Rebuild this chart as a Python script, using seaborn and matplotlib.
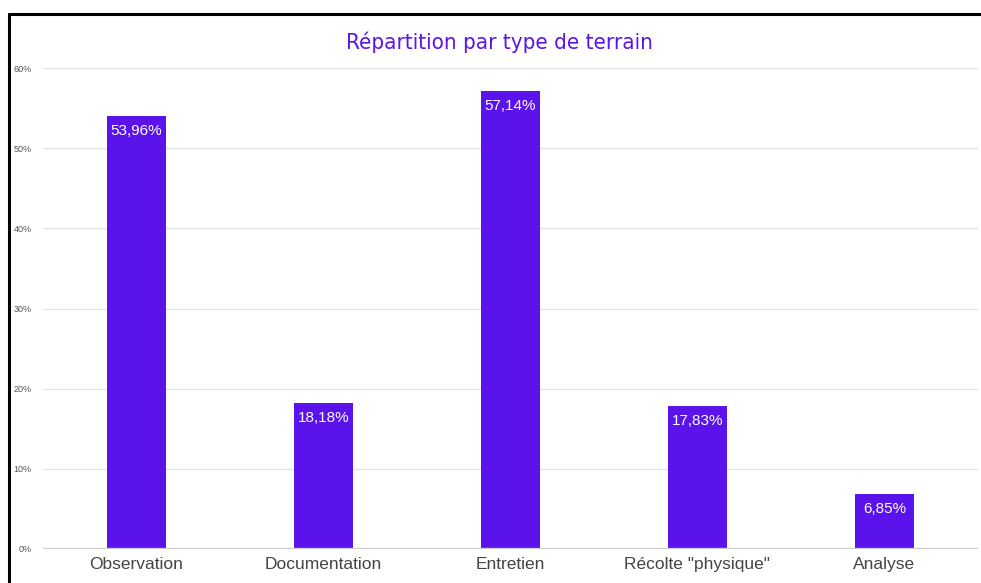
import matplotlib
matplotlib.use("Agg")
import matplotlib.pyplot as plt
from matplotlib.lines import Line2D
import seaborn as sns
import pandas as pd

categories = ["Observation", "Documentation", "Entretien", "Récolte \"physique\"", "Analyse"]
values = [53.96, 18.18, 57.14, 17.83, 6.85]
value_labels = ["53,96%", "18,18%", "57,14%", "17,83%", "6,85%"]
y_ticks = [0, 10, 20, 30, 40, 50, 60]
y_tick_labels = ["0%", "10%", "20%", "30%", "40%", "50%", "60%"]

BAR_COLOR = "#5b13ec"
TITLE_COLOR = "#5b14eb"

sns.set_theme(style="white")
plt.rcParams["font.family"] = ["Liberation Sans", "DejaVu Sans"]

df = pd.DataFrame({"categorie": categories, "valeur": values})

fig = plt.figure(figsize=(9.81, 5.83), dpi=100)
ax = fig.add_axes([43 / 981, 1 - 549 / 583, (978 - 43) / 981, (549 - 68) / 583])

sns.barplot(data=df, x="categorie", y="valeur", color=BAR_COLOR, width=0.316,
            saturation=1, ax=ax, zorder=3, edgecolor=BAR_COLOR, linewidth=0)

ax.set_xlim(-0.5, len(categories) - 0.5)
ax.set_ylim(0, 60)
ax.set_yticks(y_ticks)
ax.set_yticklabels(y_tick_labels, fontsize=6.5, color="#555555")
ax.tick_params(axis="y", length=0, pad=8)
ax.tick_params(axis="x", length=0, pad=6, labelsize=12.5, labelcolor="#444444")
ax.set_xlabel("")
ax.set_ylabel("")

for t in y_ticks[1:]:
    ax.axhline(t, color="#e4e4e4", linewidth=1, zorder=1)
ax.axhline(0, color="#cccccc", linewidth=2.4, zorder=4)

for s in ax.spines.values():
    s.set_visible(False)

for patch, lab in zip(ax.patches, value_labels):
    x = patch.get_x() + patch.get_width() / 2
    ax.annotate(lab, (x, patch.get_height()), xytext=(0, -10.5), textcoords="offset points",
                ha="center", va="center", color="white", fontsize=11, zorder=5)

fig.text(499 / 981, 1 - 42 / 583, "Répartition par type de terrain", ha="center", va="center",
         color=TITLE_COLOR, fontsize=16, fontstretch="condensed",
         family=["DejaVu Sans"])

# outer frame (top and left edges)
fig.add_artist(Line2D([9 / 981, 1], [1 - 14 / 583, 1 - 14 / 583], color="black", linewidth=2.2,
                      transform=fig.transFigure))
fig.add_artist(Line2D([9 / 981, 9 / 981], [0, 1 - 14 / 583], color="black", linewidth=2.2,
                      transform=fig.transFigure))

fig.savefig("out.png", dpi=100)
